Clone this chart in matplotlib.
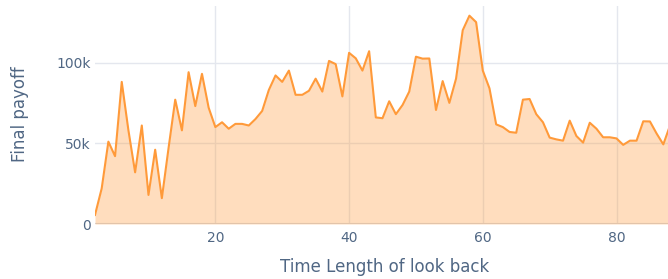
import matplotlib
matplotlib.use("Agg")
import matplotlib.pyplot as plt

look_back = list(range(2, 89))
payoff_k = [
    5.6, 22, 51, 42, 88, 58, 32, 61, 18, 46,
    16, 47, 77, 58, 94, 73, 93, 72, 60, 63,
    59, 62, 62, 61, 65, 70, 83, 92, 88, 95,
    80, 80, 82.5, 90, 82, 101, 99, 79, 106, 102.6,
    95, 107, 66, 65.5, 76, 68, 73.7, 82, 103.6, 102.4,
    102.5, 70.6, 88.5, 75, 90, 120, 129, 125, 95, 84,
    61.7, 60, 57, 56.5, 77, 77.4, 68, 63, 53.5, 52.4,
    51.6, 64, 54.5, 50.4, 62.7, 59, 53.7, 53.7, 53, 49,
    51.6, 51.6, 63.6, 63.5, 56, 49.3, 61,
]
payoff = [v * 1000 for v in payoff_k]

x_ticks = [20, 40, 60, 80]
y_ticks = [0, 50000, 100000]
y_tick_labels = ["0", "50k", "100k"]

text_color = "#506784"
grid_color = "#e4e7ee"
line_color = "#ff9a3a"

fig = plt.figure(figsize=(6.68, 2.79), dpi=100)
ax = fig.add_axes([95 / 668, 1 - 224 / 279, 1 - 95 / 668, (224 - 6) / 279])

ax.fill_between(look_back, payoff, 0, color=line_color, alpha=0.33, linewidth=0, zorder=2)
ax.plot(look_back, payoff, color=line_color, linewidth=1.5, zorder=3)

ax.set_xlim(2, 87.7)
ax.set_ylim(0, 135000)
ax.set_xticks(x_ticks)
ax.set_yticks(y_ticks)
ax.set_yticklabels(y_tick_labels)
ax.grid(True, color=grid_color, linewidth=1, zorder=1)
ax.set_axisbelow(True)
ax.axhline(0, color="#d5d9e2", linewidth=1.5, zorder=1)
for s in ax.spines.values():
    s.set_visible(False)
ax.tick_params(axis="both", length=0, labelsize=10, colors=text_color, pad=3)
ax.tick_params(axis="x", pad=5)

fig.text(385 / 668, 1 - 267 / 279, "Time Length of look back",
         ha="center", va="center", fontsize=12, color=text_color)
fig.text(20 / 668, 1 - 114 / 279, "Final payoff", rotation=90,
         ha="center", va="center", fontsize=12, color=text_color)

fig.savefig("out.png", dpi=100)
